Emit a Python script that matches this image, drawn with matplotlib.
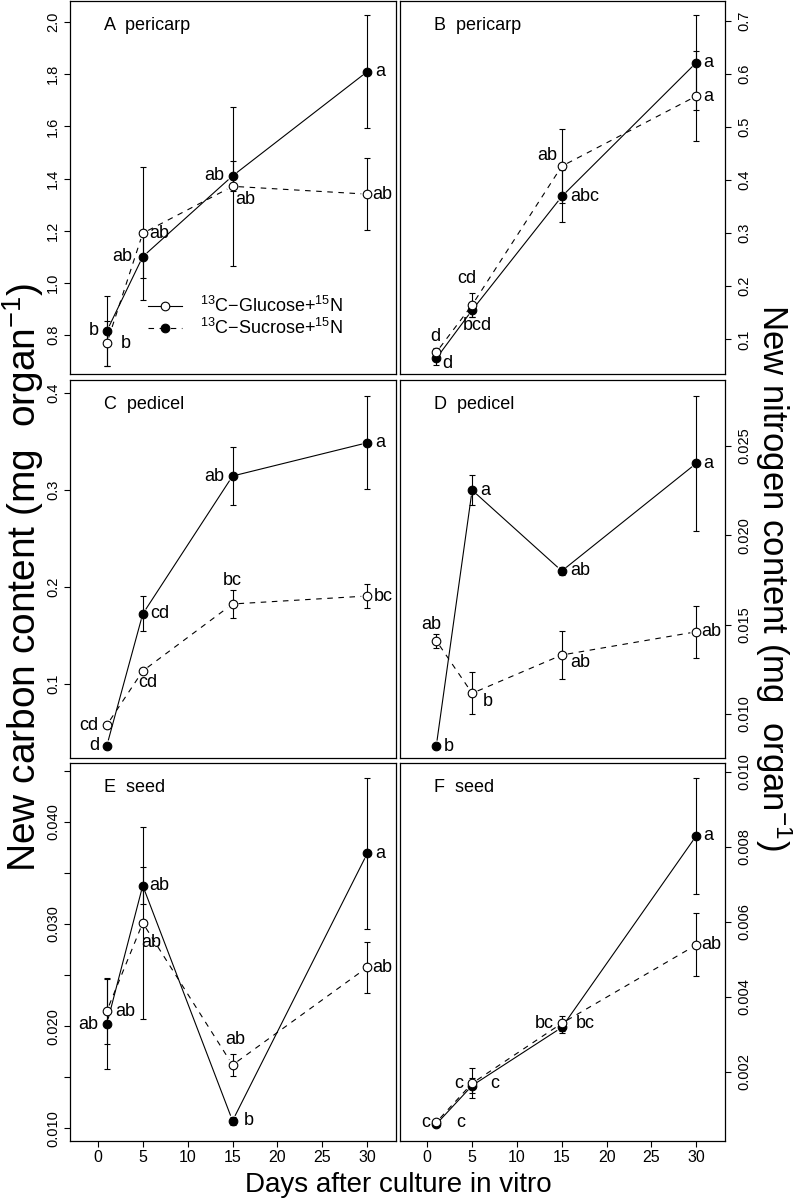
import numpy as np
import matplotlib
matplotlib.use('Agg')
import matplotlib.pyplot as plt
from matplotlib.lines import Line2D

plt.rcParams['font.family'] = ['Liberation Sans', 'DejaVu Sans']
plt.rcParams['mathtext.fontset'] = 'custom'
plt.rcParams['mathtext.rm'] = 'Liberation Sans'
plt.rcParams['mathtext.it'] = 'Liberation Sans:italic'
plt.rcParams['mathtext.bf'] = 'Liberation Sans:bold'

# Days after culture in vitro
days = [1, 5, 15, 30]

# A: pericarp, new carbon (filled = sucrose, open = glucose)
a_suc = [0.815, 1.10, 1.41, 1.81]
a_suc_err = [0.135, 0.083, 0.058, 0.218]
a_glc = [0.768, 1.19, 1.37, 1.34]
a_glc_err = [0.086, 0.255, 0.304, 0.137]
a_suc_let = ['b', 'ab', 'ab', 'a']
a_glc_let = ['b', 'ab', 'ab', 'ab']

# B: pericarp, new nitrogen
b_suc = [0.064, 0.155, 0.369, 0.621]
b_suc_err = [0.013, 0.013, 0.049, 0.090]
b_glc = [0.0755, 0.1646, 0.426, 0.558]
b_glc_err = [0.008, 0.023, 0.070, 0.085]
b_suc_let = ['d', 'bcd', 'abc', 'a']
b_glc_let = ['d', 'cd', 'ab', 'a']

# C: pedicel, new carbon
c_suc = [0.0367, 0.1725, 0.3147, 0.349]
c_suc_err = [0.002, 0.018, 0.030, 0.048]
c_glc = [0.058, 0.1137, 0.1828, 0.191]
c_glc_err = [0.002, 0.003, 0.014, 0.012]
c_suc_let = ['d', 'cd', 'ab', 'a']
c_glc_let = ['cd', 'cd', 'bc', 'bc']

# D: pedicel, new nitrogen
d_suc = [0.00821, 0.02252, 0.0180, 0.02402]
d_suc_err = [0.0001, 0.00084, 0.0002, 0.00376]
d_glc = [0.0141, 0.01116, 0.0133, 0.0146]
d_glc_err = [0.0004, 0.00117, 0.00134, 0.00146]
d_suc_let = ['b', 'a', 'ab', 'a']
d_glc_let = ['ab', 'b', 'ab', 'ab']

# E: seed, new carbon
e_suc = [0.0202, 0.03375, 0.01074, 0.0369]
e_suc_err = [0.0044, 0.0018, 0.0004, 0.0074]
e_glc = [0.02148, 0.0301, 0.0162, 0.02576]
e_glc_err = [0.0032, 0.0094, 0.0011, 0.0025]
e_suc_let = ['ab', 'ab', 'b', 'a']
e_glc_let = ['ab', 'ab', 'ab', 'ab']

# F: seed, new nitrogen
f_suc = [0.0006, 0.00163, 0.00318, 0.00829]
f_suc_err = [0.00005, 0.0002, 0.00015, 0.00155]
f_glc = [0.00065, 0.00169, 0.00329, 0.00538]
f_glc_err = [0.00005, 0.0004, 0.0002, 0.00084]
f_suc_let = ['c', 'c', 'bc', 'a']
f_glc_let = ['c', 'c', 'bc', 'ab']

panel_titles = ['A  pericarp', 'B  pericarp', 'C  pedicel',
                'D  pedicel', 'E  seed', 'F  seed']

# letter offsets from the marker, in pixels (dx right, dy down)
off_suc = [
    [(-13, 0), (-20, 0), (-18, 0), (13, 0)],
    [(11, 5), (5, 15), (23, 0), (12, 0)],
    [(-13, 0), (17, 0), (-18, 0), (13, 0)],
    [(13, 0), (13, 0), (18, 0), (12, 0)],
    [(-19, 0), (17, 0), (16, 0), (13, 0)],
    [(-11, -2), (-13, -2), (-18, -4), (12, 0)],
]
off_glc = [
    [(19, 0), (17, 0), (13, 13), (15, 0)],
    [(-1, -16), (-5, -27), (-15, -11), (12, 0)],
    [(-18, 0), (5, 12), (0, -23), (16, 0)],
    [(-5, -16), (16, 8), (18, 7), (15, 0)],
    [(18, 0), (9, 20), (3, -25), (15, 0)],
    [(24, 0), (23, 0), (23, 0), (15, 0)],
]

W, H = 793, 1200
fig = plt.figure(figsize=(W / 100, H / 100), dpi=100)

cols = [(70, 396), (399.5, 725)]
rows = [(1, 374), (380, 758), (763, 1141)]

ylims = [(0.65, 2.081), (0.0347, 0.737), (0.024, 0.4137),
         (0.00754, 0.02868), (0.00876, 0.04575), (0.000152, 0.01023)]
yticks = [[0.8, 1.0, 1.2, 1.4, 1.6, 1.8, 2.0],
          [0.1, 0.2, 0.3, 0.4, 0.5, 0.6, 0.7],
          [0.1, 0.2, 0.3, 0.4],
          [0.010, 0.015, 0.020, 0.025],
          [0.010, 0.015, 0.020, 0.025, 0.030, 0.035, 0.040, 0.045],
          [0.002, 0.004, 0.006, 0.008, 0.010]]
ylabs = [['0.8', '1.0', '1.2', '1.4', '1.6', '1.8', '2.0'],
         ['0.1', '0.2', '0.3', '0.4', '0.5', '0.6', '0.7'],
         ['0.1', '0.2', '0.3', '0.4'],
         ['0.010', '0.015', '0.020', '0.025'],
         ['0.010', '', '0.020', '', '0.030', '', '0.040', ''],
         ['0.002', '0.004', '0.006', '0.008', '0.010']]

suc_all = [a_suc, b_suc, c_suc, d_suc, e_suc, f_suc]
suc_err_all = [a_suc_err, b_suc_err, c_suc_err, d_suc_err, e_suc_err, f_suc_err]
glc_all = [a_glc, b_glc, c_glc, d_glc, e_glc, f_glc]
glc_err_all = [a_glc_err, b_glc_err, c_glc_err, d_glc_err, e_glc_err, f_glc_err]
suc_let_all = [a_suc_let, b_suc_let, c_suc_let, d_suc_let, e_suc_let, f_suc_let]
glc_let_all = [a_glc_let, b_glc_let, c_glc_let, d_glc_let, e_glc_let, f_glc_let]

LW = 0.8
GAP = 6  # px gap between line ends and point (R type="b")
PX = 0.72  # px -> pt


def gap_line(ax, x, y, **kw):
    # draw segments between points, stopping short of each point
    pts = ax.transData.transform(np.column_stack([x, y]))
    inv = ax.transData.inverted()
    for p0, p1 in zip(pts[:-1], pts[1:]):
        d = p1 - p0
        L = np.hypot(d[0], d[1])
        if L <= 2 * GAP:
            continue
        u = d / L
        q = inv.transform(np.array([p0 + u * GAP, p1 - u * GAP]))
        ax.plot(q[:, 0], q[:, 1], color='black', lw=LW, zorder=2, **kw)


axes = []
for i in range(6):
    r, c = divmod(i, 2)
    x0, x1 = cols[c]
    y0, y1 = rows[r]
    ax = fig.add_axes([x0 / W, 1 - y1 / H, (x1 - x0) / W, (y1 - y0) / H])
    axes.append(ax)
    ax.set_xlim(-3.1, 33.2)
    ax.set_ylim(*ylims[i])
    for s in ax.spines.values():
        s.set_linewidth(0.9)

    # error bars
    ax.errorbar(days, suc_all[i], yerr=suc_err_all[i], fmt='none',
                ecolor='black', elinewidth=LW, capsize=2.3, capthick=LW, zorder=1)
    ax.errorbar(days, glc_all[i], yerr=glc_err_all[i], fmt='none',
                ecolor='black', elinewidth=LW, capsize=2.3, capthick=LW, zorder=1)

    # lines (solid for filled points, dashed for open points)
    gap_line(ax, days, suc_all[i], ls='-')
    gap_line(ax, days, glc_all[i], ls=(0, (5, 5)))

    ax.plot(days, suc_all[i], ls='none', marker='o', ms=6.2, mfc='black',
            mec='black', mew=0.8, zorder=3)
    ax.plot(days, glc_all[i], ls='none', marker='o', ms=6.2, mfc='white',
            mec='black', mew=0.8, zorder=4)

    for xd, yv, lt, (dx, dy) in zip(days, suc_all[i], suc_let_all[i], off_suc[i]):
        ax.annotate(lt, (xd, yv), xytext=(dx * PX, -dy * PX),
                    textcoords='offset points', ha='center', va='center',
                    fontsize=13, zorder=5)
    for xd, yv, lt, (dx, dy) in zip(days, glc_all[i], glc_let_all[i], off_glc[i]):
        ax.annotate(lt, (xd, yv), xytext=(dx * PX, -dy * PX),
                    textcoords='offset points', ha='center', va='center',
                    fontsize=13, zorder=5)

    ax.text(0.105, 0.935, panel_titles[i], transform=ax.transAxes,
            ha='left', va='center', fontsize=13)

    ax.set_yticks(yticks[i])
    ax.set_yticklabels(ylabs[i])
    if c == 0:
        ax.yaxis.tick_left()
        ax.tick_params(axis='y', labelrotation=90, labelsize=10.5,
                       length=5.6 * PX, width=0.8, pad=3)
    else:
        ax.yaxis.tick_right()
        ax.tick_params(axis='y', labelrotation=90, labelsize=10.5,
                       length=5.6 * PX, width=0.8, pad=5)
    for t in ax.get_yticklabels():
        t.set_va('center')

    if r == 2:
        ax.set_xticks([0, 5, 10, 15, 20, 25, 30])
        ax.tick_params(axis='x', labelsize=11.5, length=6 * PX, width=0.8, pad=2)
    else:
        ax.set_xticks([])

# legend in panel A (as drawn in the original)
handles = [Line2D([], [], color='black', lw=LW, ls='-', marker='o', ms=6.2,
                  mfc='white', mec='black', mew=0.8),
           Line2D([], [], color='black', lw=LW, ls=(0, (5, 5)), marker='o', ms=6.2,
                  mfc='black', mec='black', mew=0.8)]
axes[0].legend(handles, [r'$^{13}$C$-$Glucose+$^{15}$N', r'$^{13}$C$-$Sucrose+$^{15}$N'],
               loc='center left', bbox_to_anchor=(0.239, 0.153), frameon=False,
               fontsize=13, handlelength=1.88, handletextpad=1.0,
               labelspacing=0.1, borderpad=0, borderaxespad=0)

fig.text(23.5 / W, 1 - 577 / H, r'New carbon content (mg  organ$^{-1}$)',
         rotation=90, ha='center', va='center', fontsize=28)
fig.text(774 / W, 1 - 577 / H, r'New nitrogen content (mg  organ$^{-1}$)',
         rotation=270, ha='center', va='center', fontsize=25)
fig.text(398 / W, 1 - 1185 / H, 'Days after culture in vitro',
         ha='center', va='center', fontsize=20)

fig.savefig('out.png', dpi=100)
